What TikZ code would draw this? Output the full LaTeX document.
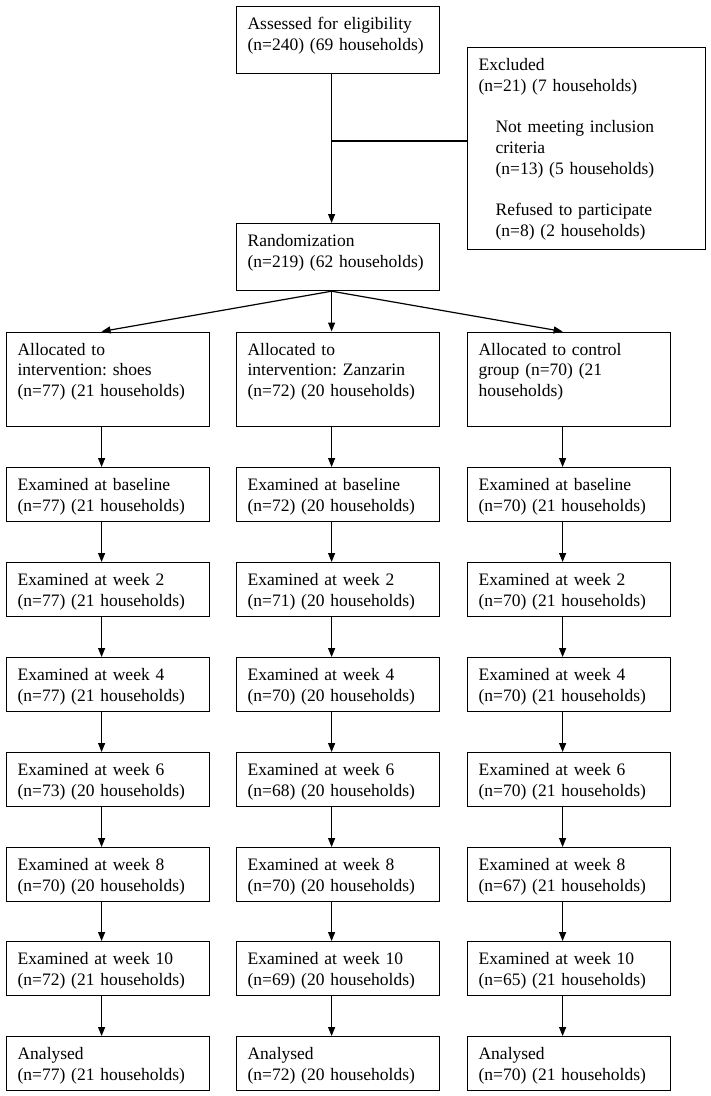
\documentclass[tikz,border=0pt]{standalone}
\usepackage{fontspec}
\setmainfont{Liberation Serif}
\usetikzlibrary{arrows.meta}
\tikzset{
  cell/.style={draw, line width=1.2pt, anchor=north west, inner xsep=11pt, inner ysep=0pt,
    text width=181pt, minimum width=203pt, align=left, text height=23pt, text depth=31pt,
    font=\fontsize{17.5}{20.7}\selectfont\frenchspacing},
  flow/.style={line width=1.2pt, -{Triangle[length=9pt,width=7pt]}},
}
\begin{document}
\begin{tikzpicture}[x=1pt,y=-1pt]
  \useasboundingbox (0,0) rectangle (711,1096);
  \node[cell, text depth=44pt] (assess) at (236,6) {Assessed for eligibility\\(n=240) (69 households)};
  \node[cell, text depth=179pt, text width=216pt, minimum width=238pt] (excl) at (467,47)
    {Excluded\\(n=21) (7 households)\\[20.7pt]
     \hspace*{17pt}Not meeting inclusion\\\hspace*{17pt}criteria\\\hspace*{17pt}(n=13) (5 households)\\[20.7pt]
     \hspace*{17pt}Refused to participate\\\hspace*{17pt}(n=8) (2 households)};
  \node[cell, text depth=44pt] (rand) at (236,223) {Randomization\\(n=219) (62 households)};
  % shoes
  \node[cell, text depth=71pt] (sh0) at (6,331.5) {Allocated to\\intervention: shoes\\(n=77) (21 households)};
  \node[cell] (sh1) at (6,467) {Examined at baseline\\(n=77) (21 households)};
  \node[cell] (sh2) at (6,562) {Examined at week 2\\(n=77) (21 households)};
  \node[cell] (sh3) at (6,657) {Examined at week 4\\(n=77) (21 households)};
  \node[cell] (sh4) at (6,752) {Examined at week 6\\(n=73) (20 households)};
  \node[cell] (sh5) at (6,847) {Examined at week 8\\(n=70) (20 households)};
  \node[cell] (sh6) at (6,941) {Examined at week 10\\(n=72) (21 households)};
  \node[cell] (sh7) at (6,1036) {Analysed\\(n=77) (21 households)};
  % zanzarin
  \node[cell, text depth=71pt] (za0) at (236,331.5) {Allocated to\\intervention: Zanzarin\\(n=72) (20 households)};
  \node[cell] (za1) at (236,467) {Examined at baseline\\(n=72) (20 households)};
  \node[cell] (za2) at (236,562) {Examined at week 2\\(n=71) (20 households)};
  \node[cell] (za3) at (236,657) {Examined at week 4\\(n=70) (20 households)};
  \node[cell] (za4) at (236,752) {Examined at week 6\\(n=68) (20 households)};
  \node[cell] (za5) at (236,847) {Examined at week 8\\(n=70) (20 households)};
  \node[cell] (za6) at (236,941) {Examined at week 10\\(n=69) (20 households)};
  \node[cell] (za7) at (236,1036) {Analysed\\(n=72) (20 households)};
  % control
  \node[cell, text depth=71pt] (co0) at (467,331.5) {Allocated to control\\group (n=70) (21\\households)};
  \node[cell] (co1) at (467,467) {Examined at baseline\\(n=70) (21 households)};
  \node[cell] (co2) at (467,562) {Examined at week 2\\(n=70) (21 households)};
  \node[cell] (co3) at (467,657) {Examined at week 4\\(n=70) (21 households)};
  \node[cell] (co4) at (467,752) {Examined at week 6\\(n=70) (21 households)};
  \node[cell] (co5) at (467,847) {Examined at week 8\\(n=67) (21 households)};
  \node[cell] (co6) at (467,941) {Examined at week 10\\(n=65) (21 households)};
  \node[cell] (co7) at (467,1036) {Analysed\\(n=70) (21 households)};
  \coordinate (split) at (331,141);
  \begin{scope}[flow]
    \draw ([xshift=-6.5]assess.south) to ([xshift=-6.5]rand.north);
    \draw[-] (split) to (split -| excl.west);
    \draw ([xshift=-6.5]rand.south) to ([xshift=-6.5]sh0.north);
    \draw ([xshift=-6.5]rand.south) to ([xshift=-6.5]za0.north);
    \draw ([xshift=-6.5]rand.south) to ([xshift=-6.5]co0.north);
    \draw ([xshift=-6.5]sh0.south) to ([xshift=-6.5]sh1.north);
    \draw ([xshift=-6.5]sh1.south) to ([xshift=-6.5]sh2.north);
    \draw ([xshift=-6.5]sh2.south) to ([xshift=-6.5]sh3.north);
    \draw ([xshift=-6.5]sh3.south) to ([xshift=-6.5]sh4.north);
    \draw ([xshift=-6.5]sh4.south) to ([xshift=-6.5]sh5.north);
    \draw ([xshift=-6.5]sh5.south) to ([xshift=-6.5]sh6.north);
    \draw ([xshift=-6.5]sh6.south) to ([xshift=-6.5]sh7.north);
    \draw ([xshift=-6.5]za0.south) to ([xshift=-6.5]za1.north);
    \draw ([xshift=-6.5]za1.south) to ([xshift=-6.5]za2.north);
    \draw ([xshift=-6.5]za2.south) to ([xshift=-6.5]za3.north);
    \draw ([xshift=-6.5]za3.south) to ([xshift=-6.5]za4.north);
    \draw ([xshift=-6.5]za4.south) to ([xshift=-6.5]za5.north);
    \draw ([xshift=-6.5]za5.south) to ([xshift=-6.5]za6.north);
    \draw ([xshift=-6.5]za6.south) to ([xshift=-6.5]za7.north);
    \draw ([xshift=-6.5]co0.south) to ([xshift=-6.5]co1.north);
    \draw ([xshift=-6.5]co1.south) to ([xshift=-6.5]co2.north);
    \draw ([xshift=-6.5]co2.south) to ([xshift=-6.5]co3.north);
    \draw ([xshift=-6.5]co3.south) to ([xshift=-6.5]co4.north);
    \draw ([xshift=-6.5]co4.south) to ([xshift=-6.5]co5.north);
    \draw ([xshift=-6.5]co5.south) to ([xshift=-6.5]co6.north);
    \draw ([xshift=-6.5]co6.south) to ([xshift=-6.5]co7.north);
  \end{scope}
\end{tikzpicture}
\end{document}
